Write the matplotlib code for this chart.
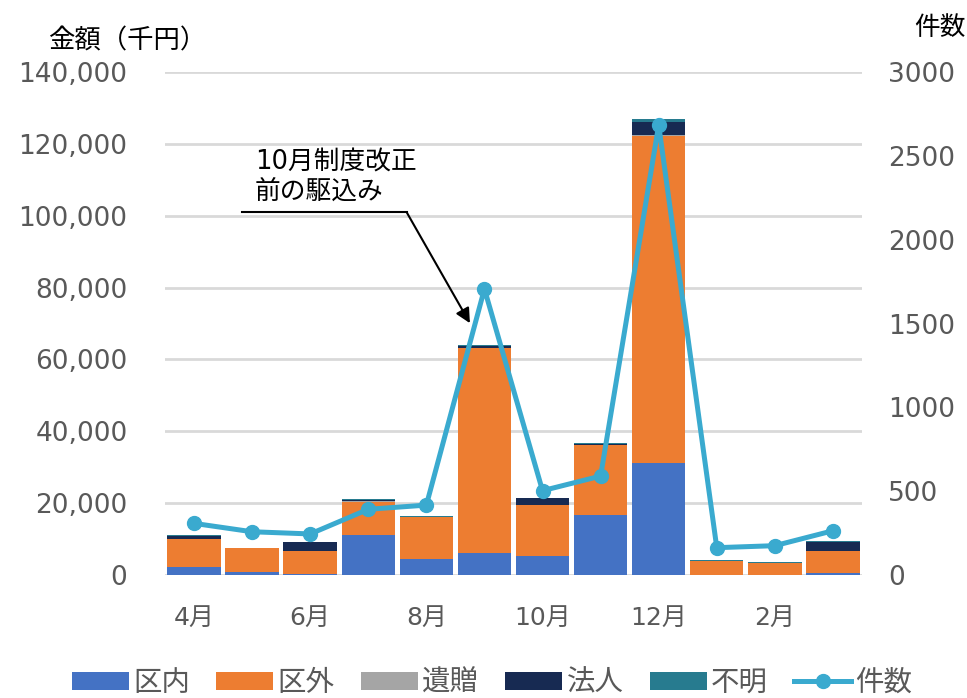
import matplotlib
matplotlib.use("Agg")
import matplotlib.pyplot as plt
from matplotlib.patches import Patch
from matplotlib.lines import Line2D
import numpy as np

plt.rcParams['font.family'] = ['DejaVu Sans', 'Noto Sans CJK JP']

# データ（千円・件数）
months = ["4月", "5月", "6月", "7月", "8月", "9月", "10月", "11月", "12月", "1月", "2月", "3月"]
kunai = [2300, 900, 400, 11100, 4500, 6000, 5300, 16700, 31100, 0, 0, 500]
kugai = [7700, 6500, 6300, 9300, 11600, 57100, 14200, 19500, 91200, 3900, 3400, 6200]
izo = [100, 0, 0, 100, 0, 100, 0, 100, 100, 0, 0, 0]
hojin = [800, 0, 2600, 500, 0, 500, 1800, 200, 3800, 0, 0, 2600]
fumei = [300, 200, 0, 200, 200, 300, 100, 200, 800, 300, 200, 100]
kensu = [308, 258, 245, 392, 417, 1706, 503, 590, 2684, 163, 175, 264]

series = [("区内", kunai, "#4472C4"), ("区外", kugai, "#ED7D31"), ("遺贈", izo, "#A5A5A5"),
          ("法人", hojin, "#172A52"), ("不明", fumei, "#277B8F")]

gray = "#595959"

fig = plt.figure(figsize=(9.67, 6.98), dpi=100)
ax = fig.add_axes([0.1706, 0.1762, 0.7208, 0.7206])
x = np.arange(len(months))

bottom = np.zeros(len(months))
for name, vals, col in series:
    ax.bar(x, vals, width=0.92, bottom=bottom, color=col, zorder=2)
    bottom += np.array(vals)

ax.set_xlim(-0.5, 11.5)
ax.set_ylim(0, 140000)
ax.set_yticks(np.arange(0, 140001, 20000))
ax.set_yticklabels([f"{v:,}" for v in range(0, 140001, 20000)])
ax.grid(axis='y', color="#D9D9D9", linewidth=2, zorder=0)
ax.set_axisbelow(True)
for s in ax.spines.values():
    s.set_visible(False)
ax.tick_params(axis='y', length=0, pad=27, labelsize=19, labelcolor=gray)
ax.set_xticks(x[::2])
ax.set_xticklabels(months[::2])
ax.tick_params(axis='x', length=0, pad=22, labelsize=18, labelcolor=gray)

ax2 = ax.twinx()
ax2.plot(x, kensu, color="#3AAACF", linewidth=3.6, marker='o', markersize=10, zorder=5)
ax2.set_ylim(0, 3000)
ax2.set_yticks(np.arange(0, 3001, 500))
for s in ax2.spines.values():
    s.set_visible(False)
ax2.tick_params(axis='y', length=0, pad=19, labelsize=19, labelcolor=gray)

# 注記
ax.plot([0.825, 3.66], [101000, 101000], color="black", linewidth=1.5, zorder=6)
ax.annotate("", xy=(4.75, 70100), xytext=(3.66, 101000),
            arrowprops=dict(arrowstyle="-|>", color="black", lw=1.5, mutation_scale=22, shrinkA=0, shrinkB=0),
            zorder=6)
ax.text(1.05, 103000, "10月制度改正\n前の駆込み", fontsize=18.5, color="black",
        ha='left', va='bottom', linespacing=1.15, zorder=6)

fig.text(0.050, 0.940, "金額（千円）", fontsize=19, color="black", ha='left', va='center')
fig.text(0.999, 0.960, "件数", fontsize=18.5, color="black", ha='right', va='center')

handles = [Patch(facecolor=col, label=name) for name, _, col in series]
handles.append(Line2D([0], [0], color="#3AAACF", linewidth=3.6, marker='o', markersize=10, label="件数"))
fig.legend(handles=handles, loc='lower center', bbox_to_anchor=(0.509, -0.035), ncol=6, frameon=False,
           fontsize=20.5, labelcolor=gray, handlelength=2.0, handleheight=0.6, handletextpad=0.15,
           columnspacing=0.92)

fig.savefig("out.png", dpi=100)
